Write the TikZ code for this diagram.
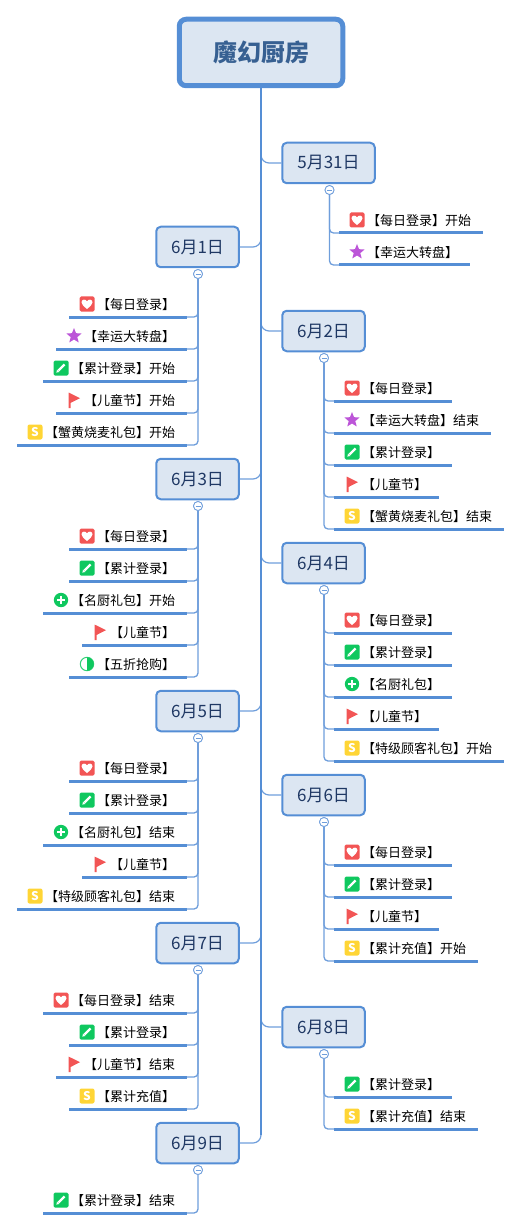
\documentclass[tikz,border=0pt]{standalone}
\usepackage{fontspec}
\setmainfont{Noto Sans CJK SC}
\usetikzlibrary{calc,shapes.geometric}
\definecolor{lineblue}{HTML}{558ED5}
\definecolor{connblue}{HTML}{6F9EDB}
\definecolor{boxfill}{HTML}{DCE6F2}
\definecolor{boxtext}{HTML}{1F3864}
\definecolor{titletext}{HTML}{376092}
\definecolor{iconred}{HTML}{F25555}
\definecolor{iconpurple}{HTML}{BC55D8}
\definecolor{icongreen}{HTML}{0FC85F}
\definecolor{iconyellow}{HTML}{FFD535}
\tikzset{
  rootbox/.style={draw=lineblue,fill=boxfill,line width=5pt,rounded corners=7pt,minimum width=163.5pt,minimum height=66.5pt,inner sep=0pt,text=titletext,font=\fontsize{24}{24}\selectfont\bfseries},
  daybox/.style={draw=lineblue,fill=boxfill,line width=2pt,rounded corners=4.5pt,minimum height=40.5pt,inner sep=0pt,text=boxtext,font=\fontsize{17}{17}\selectfont},
  dayL/.style={daybox,minimum width=82.5pt},
  dayR/.style={daybox,minimum width=82.5pt},
  leaftext/.style={inner sep=0pt,anchor=west,text=black,font=\fontsize{13}{13}\selectfont},
  spine/.style={draw=lineblue,line width=1.6pt},
  branch/.style={draw=connblue,line width=1.2pt,rounded corners=8pt},
  conn/.style={draw=connblue,line width=1.3pt,rounded corners=4pt},
  underbar/.style={draw=lineblue,line width=3pt},
  toggle/.style={circle,draw=connblue,fill=white,line width=0.8pt,minimum size=9pt,inner sep=0pt},
  heart/.pic={
    \fill[iconred,rounded corners=1.5pt] (-7.5,-7.5) rectangle (7.5,7.5);
    \fill[white] (0,5) .. controls (-3,2.5) and (-5.5,0.5) .. (-5.5,-1.6) .. controls (-5.5,-5) and (-1.3,-5.2) .. (0,-2.6) .. controls (1.3,-5.2) and (5.5,-5) .. (5.5,-1.6) .. controls (5.5,0.5) and (3,2.5) .. (0,5) -- cycle;
  },
  starpic/.pic={
    \node[star,star points=5,star point ratio=2.3,fill=iconpurple,minimum size=16pt,inner sep=0pt] {};
  },
  pencil/.pic={
    \fill[icongreen,rounded corners=1.5pt] (-7.5,-7.5) rectangle (7.5,7.5);
    \draw[white,line width=2.4pt] (-2.6,2.6) -- (3.6,-3.6);
    \fill[white] (-4.6,4.6) -- (-4,1.6) -- (-1.6,4) -- cycle;
  },
  flag/.pic={
    \fill[iconred] (-5.5,-7.5) -- (6,-1.8) -- (-3.5,3) -- (-3.5,8) -- (-5.5,8) -- cycle;
  },
  dollar/.pic={
    \fill[iconyellow,rounded corners=2pt] (-7.5,-7.5) rectangle (7.5,7.5);
    \node[text=white,inner sep=0pt,font=\fontsize{12}{12}\selectfont\bfseries] {S};
  },
  plus/.pic={
    \fill[icongreen] (0,0) circle (7.2);
    \draw[white,line width=1.8pt] (-3.6,0) -- (3.6,0) (0,-3.6) -- (0,3.6);
  },
  half/.pic={
    \draw[icongreen!85!white,line width=1pt] (0,0) circle (6.7);
    \fill[icongreen] (0,-6.7) arc[start angle=-90,end angle=90,radius=6.7] -- cycle;
  }
}
% #1 name, #2 toggle, #3 y, #4 character count, #5 icon, #6 text
\newcommand\leafL[6]{%
  \coordinate (#1e) at (187,#3);
  \coordinate (#1s) at ({187-40-13*#4},#3);
  \draw[conn] (#2.south) |- (#1e);
  \draw[underbar] (#1s) -- (#1e);
  \pic at ($(#1s)+(18,-13)$) {#5};
  \node[leaftext] (#1) at ($(#1s)+(28,-12)$) {#6};
}
\newcommand\leafR[6]{%
  \coordinate (#1s) at (\leafx,#3);
  \coordinate (#1e) at ({\leafx+40+13*#4},#3);
  \draw[conn] (#2.south) |- (#1s);
  \draw[underbar] (#1s) -- (#1e);
  \pic at ($(#1s)+(18,-13)$) {#5};
  \node[leaftext] (#1) at ($(#1s)+(28,-12)$) {#6};
}
\begin{document}
\begin{tikzpicture}[x=1pt,y=-1pt]
\useasboundingbox (0,0) rectangle (522,1230);
% day nodes
\node[rootbox] (root) at (261,52.5) {魔幻厨房};
\node[daybox,minimum width=92.5pt] (d531) at (328.5,163) {5月31日};
\node[dayL] (d61) at (197.5,247) {6月1日};
\node[dayR] (d62) at (323.5,331) {6月2日};
\node[dayL] (d63) at (197.5,479) {6月3日};
\node[dayR] (d64) at (323.5,563) {6月4日};
\node[dayL] (d65) at (197.5,711) {6月5日};
\node[dayR] (d66) at (323.5,795) {6月6日};
\node[dayL] (d67) at (197.5,943) {6月7日};
\node[dayR] (d68) at (323.5,1027) {6月8日};
\node[dayL] (d69) at (197.5,1143) {6月9日};
% toggles
\node[toggle] (t531) at (329.5,190) {};
\node[toggle] (t61) at (198,274) {};
\node[toggle] (t62) at (324,358) {};
\node[toggle] (t63) at (198,506) {};
\node[toggle] (t64) at (324,590) {};
\node[toggle] (t65) at (198,738) {};
\node[toggle] (t66) at (324,822) {};
\node[toggle] (t67) at (198,970) {};
\node[toggle] (t68) at (324,1054) {};
\node[toggle] (t69) at (198,1170) {};
% main branches
\foreach \d in {d531,d62,d64,d66,d68} \draw[branch] (root.south) |- (\d.west);
\foreach \d in {d61,d63,d65,d67,d69} \draw[branch] (root.south) |- (\d.east);
\coordinate (spineend) at (261,1135);
\draw[spine] (root.south) -- (spineend);
% leaves
\def\leafx{339}
\leafR{a1}{t531}{233}{8}{heart}{【每日登录】开始}
\leafR{a2}{t531}{265}{7}{starpic}{【幸运大转盘】}
\def\leafx{334}
\leafL{b1}{t61}{317}{6}{heart}{【每日登录】}
\leafL{b2}{t61}{349}{7}{starpic}{【幸运大转盘】}
\leafL{b3}{t61}{381}{8}{pencil}{【累计登录】开始}
\leafL{b4}{t61}{413}{7}{flag}{【儿童节】开始}
\leafL{b5}{t61}{445}{10}{dollar}{【蟹黄烧麦礼包】开始}
\leafR{c1}{t62}{401}{6}{heart}{【每日登录】}
\leafR{c2}{t62}{433}{9}{starpic}{【幸运大转盘】结束}
\leafR{c3}{t62}{465}{6}{pencil}{【累计登录】}
\leafR{c4}{t62}{497}{5}{flag}{【儿童节】}
\leafR{c5}{t62}{529}{10}{dollar}{【蟹黄烧麦礼包】结束}
\leafL{e1}{t63}{549}{6}{heart}{【每日登录】}
\leafL{e2}{t63}{581}{6}{pencil}{【累计登录】}
\leafL{e3}{t63}{613}{8}{plus}{【名厨礼包】开始}
\leafL{e4}{t63}{645}{5}{flag}{【儿童节】}
\leafL{e5}{t63}{677}{6}{half}{【五折抢购】}
\leafR{f1}{t64}{633}{6}{heart}{【每日登录】}
\leafR{f2}{t64}{665}{6}{pencil}{【累计登录】}
\leafR{f3}{t64}{697}{6}{plus}{【名厨礼包】}
\leafR{f4}{t64}{729}{5}{flag}{【儿童节】}
\leafR{f5}{t64}{761}{10}{dollar}{【特级顾客礼包】开始}
\leafL{g1}{t65}{781}{6}{heart}{【每日登录】}
\leafL{g2}{t65}{813}{6}{pencil}{【累计登录】}
\leafL{g3}{t65}{845}{8}{plus}{【名厨礼包】结束}
\leafL{g4}{t65}{877}{5}{flag}{【儿童节】}
\leafL{g5}{t65}{909}{10}{dollar}{【特级顾客礼包】结束}
\leafR{h1}{t66}{865}{6}{heart}{【每日登录】}
\leafR{h2}{t66}{897}{6}{pencil}{【累计登录】}
\leafR{h3}{t66}{929}{5}{flag}{【儿童节】}
\leafR{h4}{t66}{961}{8}{dollar}{【累计充值】开始}
\leafL{i1}{t67}{1013}{8}{heart}{【每日登录】结束}
\leafL{i2}{t67}{1045}{6}{pencil}{【累计登录】}
\leafL{i3}{t67}{1077}{7}{flag}{【儿童节】结束}
\leafL{i4}{t67}{1109}{6}{dollar}{【累计充值】}
\leafR{j1}{t68}{1097}{6}{pencil}{【累计登录】}
\leafR{j2}{t68}{1129}{8}{dollar}{【累计充值】结束}
\leafL{k1}{t69}{1213}{8}{pencil}{【累计登录】结束}
% redraw toggles on top
\foreach \t in {t531,t61,t62,t63,t64,t65,t66,t67,t68,t69}{
  \node[toggle] at (\t) {};
  \draw[connblue,line width=0.8pt] ($(\t)+(-2.5,0)$) -- ($(\t)+(2.5,0)$);
}
\end{tikzpicture}
\end{document}
